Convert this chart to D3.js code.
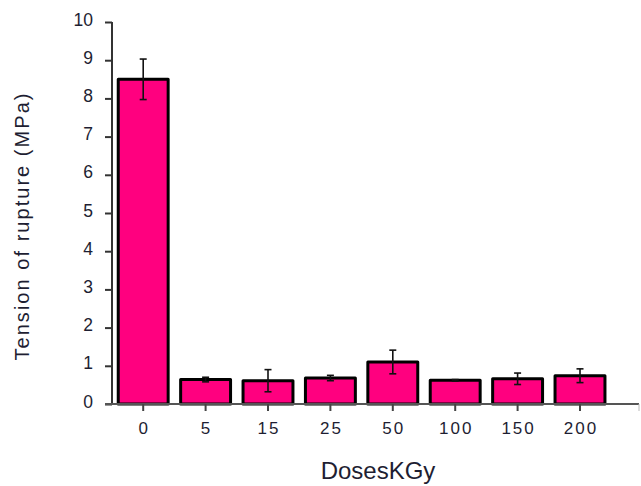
<!DOCTYPE html>
<html><head><meta charset="utf-8">
<script src="https://cdn.jsdelivr.net/npm/d3@7/dist/d3.min.js"></script>
<style>body{margin:0;background:#fff}svg{display:block}text{font-family:"Liberation Sans",Arial,sans-serif}</style>
</head><body><svg id="c" width="641" height="486"></svg>
<script>
const categories = ["0","5","15","25","50","100","150","200"];
const values = [8.5, 0.64, 0.61, 0.68, 1.1, 0.62, 0.66, 0.74];
const errors = [0.53, 0.06, 0.29, 0.07, 0.31, 0.02, 0.15, 0.18];
const yTicks = [0,1,2,3,4,5,6,7,8,9,10];

const svg = d3.select("#c");
const x = d3.scaleBand().domain(categories).range([112, 611.2]).paddingInner(0.2).paddingOuter(0.1);
const y = d3.scaleLinear().domain([0,10]).range([404, 22]);
const textCol = "#1e1e32";

// bars
svg.append("g").selectAll("rect").data(categories).join("rect")
  .attr("x", d => x(d)).attr("width", x.bandwidth())
  .attr("y", (d,i) => y(values[i])).attr("height", (d,i) => y(0) - y(values[i]))
  .attr("fill", "#ff007f").attr("stroke", "#000").attr("stroke-width", 3).attr("stroke-linejoin","round");

// error bars
const eg = svg.append("g").attr("stroke", "#111").attr("stroke-width", 1.6);
categories.forEach((c,i) => {
  const cx = x(c) + x.bandwidth()/2;
  const t = y(values[i]+errors[i]), b = y(values[i]-errors[i]);
  eg.append("line").attr("x1", cx).attr("x2", cx).attr("y1", t).attr("y2", b);
  eg.append("line").attr("x1", cx-3.5).attr("x2", cx+3.5).attr("y1", t).attr("y2", t);
  eg.append("line").attr("x1", cx-3.5).attr("x2", cx+3.5).attr("y1", b).attr("y2", b);
});

// y axis
const ya = svg.append("g").attr("transform", "translate(112,0)")
  .call(d3.axisLeft(y).tickValues(yTicks).tickSize(7).tickPadding(12).tickFormat(d3.format("d")));
ya.select(".domain").attr("stroke", "#333").attr("stroke-width", 2).attr("d", "M0,22V404");
ya.selectAll(".tick line").attr("stroke", "#333").attr("stroke-width", 2);
ya.selectAll("text").attr("font-size", 17.5).attr("fill", textCol).attr("dy", "0.18em")
  .attr("font-family","Liberation Sans, Arial, sans-serif");

// x axis
const xa = svg.append("g").attr("transform", "translate(0,404)")
  .call(d3.axisBottom(x).tickSize(7).tickPadding(11));
xa.select(".domain").attr("stroke", "#555").attr("stroke-width", 2).attr("d", "M105,0H639");
xa.selectAll(".tick line").attr("stroke", "#444").attr("stroke-width", 2);
xa.selectAll("text").attr("font-size", 17).attr("fill", textCol).attr("letter-spacing", "2px")
  .attr("font-family","Liberation Sans, Arial, sans-serif").attr("dx", 1);
xa.append("line").attr("x1", 639).attr("x2", 639).attr("y1", 0).attr("y2", 7).attr("stroke", "#bbb").attr("stroke-width", 1);

// axis titles
svg.append("text").attr("x", 378).attr("y", 479).attr("text-anchor", "middle")
  .attr("font-size", 24).attr("fill", textCol).text("DosesKGy");
svg.append("text").attr("transform", "translate(29,227) rotate(-90)").attr("text-anchor", "middle")
  .attr("font-size", 20).attr("fill", textCol).attr("textLength", 267).attr("lengthAdjust", "spacing")
  .text("Tension of rupture (MPa)");
</script></body></html>
